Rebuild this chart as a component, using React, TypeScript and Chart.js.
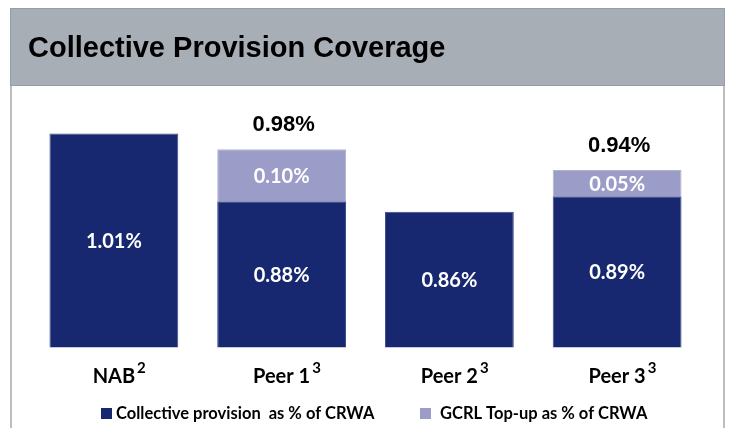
import React, { useEffect, useRef } from "react";
import { Chart, registerables } from "chart.js";

Chart.register(...registerables);

const title = "Collective Provision Coverage";
const categories = ["NAB", "Peer 1", "Peer 2", "Peer 3"];
const footnotes = ["2", "3", "3", "3"];
const seriesNames = ["Collective provision  as % of CRWA", "GCRL Top-up as % of CRWA"];
const collectiveProvision = [1.01, 0.88, 0.86, 0.89];
const gcrlTopUp = [0, 0.1, 0, 0.05];
const seriesColors = ["#172870", "#9c9cc8"];
const yMin = 0.6;
const yMax = 1.1;

const LATO = "Lato, 'Noto Sans', sans-serif";
const ARIAL = "'Liberation Sans', Arial, sans-serif";

const decorPlugin = {
  id: "decor",
  beforeDraw(chart: any) {
    const ctx = chart.ctx;
    ctx.save();
    ctx.fillStyle = "#ffffff";
    ctx.fillRect(0, 0, chart.width, chart.height);
    // panel side borders
    ctx.fillStyle = "#bdbdbd";
    ctx.fillRect(10, 86, 2, chart.height - 86);
    ctx.fillRect(723, 86, 2, chart.height - 86);
    // header
    ctx.fillStyle = "#a7aeb5";
    ctx.fillRect(10, 8, 715, 78);
    ctx.strokeStyle = "#979da4";
    ctx.lineWidth = 1;
    ctx.strokeRect(10.5, 8.5, 714, 77);
    ctx.fillStyle = "#000000";
    ctx.font = `bold 29px ${ARIAL}`;
    ctx.textAlign = "left";
    ctx.textBaseline = "alphabetic";
    ctx.fillText(title, 28, 57);
    ctx.restore();
  },
  afterDraw(chart: any) {
    const ctx = chart.ctx;
    const xScale = chart.scales.x;
    ctx.save();
    // category labels with footnote superscripts
    ctx.fillStyle = "#000000";
    ctx.textBaseline = "alphabetic";
    categories.forEach((c, i) => {
      const cx = xScale.getPixelForValue(i);
      ctx.font = `bold 20px ${LATO}`;
      const w = ctx.measureText(c).width;
      ctx.textAlign = "center";
      ctx.fillText(c, cx, 383);
      ctx.font = `bold 15px ${LATO}`;
      ctx.textAlign = "left";
      ctx.fillText(footnotes[i], cx + w / 2 + 2, 373);
    });
    // legend
    const legendX = [101, 420];
    const textX = [116, 440];
    chart.data.datasets.forEach((ds: any, i: number) => {
      ctx.fillStyle = ds.backgroundColor;
      ctx.fillRect(legendX[i], 408, 11, 11);
      ctx.fillStyle = "#000000";
      ctx.font = `bold 16.5px ${LATO}`;
      ctx.textAlign = "left";
      ctx.fillText(ds.label, textX[i], 419);
    });
    ctx.restore();
  },
  afterDatasetsDraw(chart: any) {
    const ctx = chart.ctx;
    const area = chart.chartArea;
    ctx.save();
    ctx.textAlign = "center";
    ctx.textBaseline = "middle";
    chart.data.datasets.forEach((ds: any, di: number) => {
      const meta = chart.getDatasetMeta(di);
      meta.data.forEach((el: any, i: number) => {
        const v = ds.data[i];
        if (!v) return;
        const top = Math.max(el.y, area.top);
        const bottom = Math.min(el.base, area.bottom);
        ctx.fillStyle = "#ffffff";
        ctx.font = `bold 20px ${LATO}`;
        ctx.fillText(`${v.toFixed(2)}%`, el.x, (top + bottom) / 2 + 1);
      });
    });
    // totals above stacked bars
    const lastMeta = chart.getDatasetMeta(1);
    gcrlTopUp.forEach((t, i) => {
      if (!t) return;
      const total = collectiveProvision[i] + t;
      const el = lastMeta.data[i];
      ctx.fillStyle = "#000000";
      ctx.font = `bold 22px ${ARIAL}`;
      ctx.fillText(`${total.toFixed(2)}%`, el.x + 2, el.y - 24);
    });
    ctx.restore();
  },
};

export default function App() {
  const ref = useRef<HTMLCanvasElement>(null);
  useEffect(() => {
    if (!ref.current) return;
    const chart = new Chart(ref.current, {
      type: "bar",
      data: {
        labels: categories,
        datasets: [
          {
            label: seriesNames[0],
            data: collectiveProvision,
            backgroundColor: seriesColors[0],
            borderColor: "#3a4a8a",
            borderWidth: 1,
            barPercentage: 0.768,
            categoryPercentage: 1,
          },
          {
            label: seriesNames[1],
            data: gcrlTopUp,
            backgroundColor: seriesColors[1],
            borderColor: "#b2b2d6",
            borderWidth: 1,
            barPercentage: 0.768,
            categoryPercentage: 1,
          },
        ],
      },
      options: {
        responsive: false,
        animation: false,
        devicePixelRatio: 1,
        layout: { padding: { left: 30, right: 30, top: 86.7, bottom: 80.7 } },
        plugins: { legend: { display: false }, tooltip: { enabled: false }, title: { display: false } },
        scales: {
          x: { display: false, stacked: true, offset: true },
          y: { display: false, stacked: true, min: yMin, max: yMax },
        },
      },
      plugins: [decorPlugin],
    });
    return () => chart.destroy();
  }, []);
  return (
    <div style={{ position: "fixed", left: 0, top: 0, width: 731, height: 428, background: "#fff" }}>
      <canvas ref={ref} width={731} height={428} style={{ display: "block", width: 731, height: 428 }} />
    </div>
  );
}
